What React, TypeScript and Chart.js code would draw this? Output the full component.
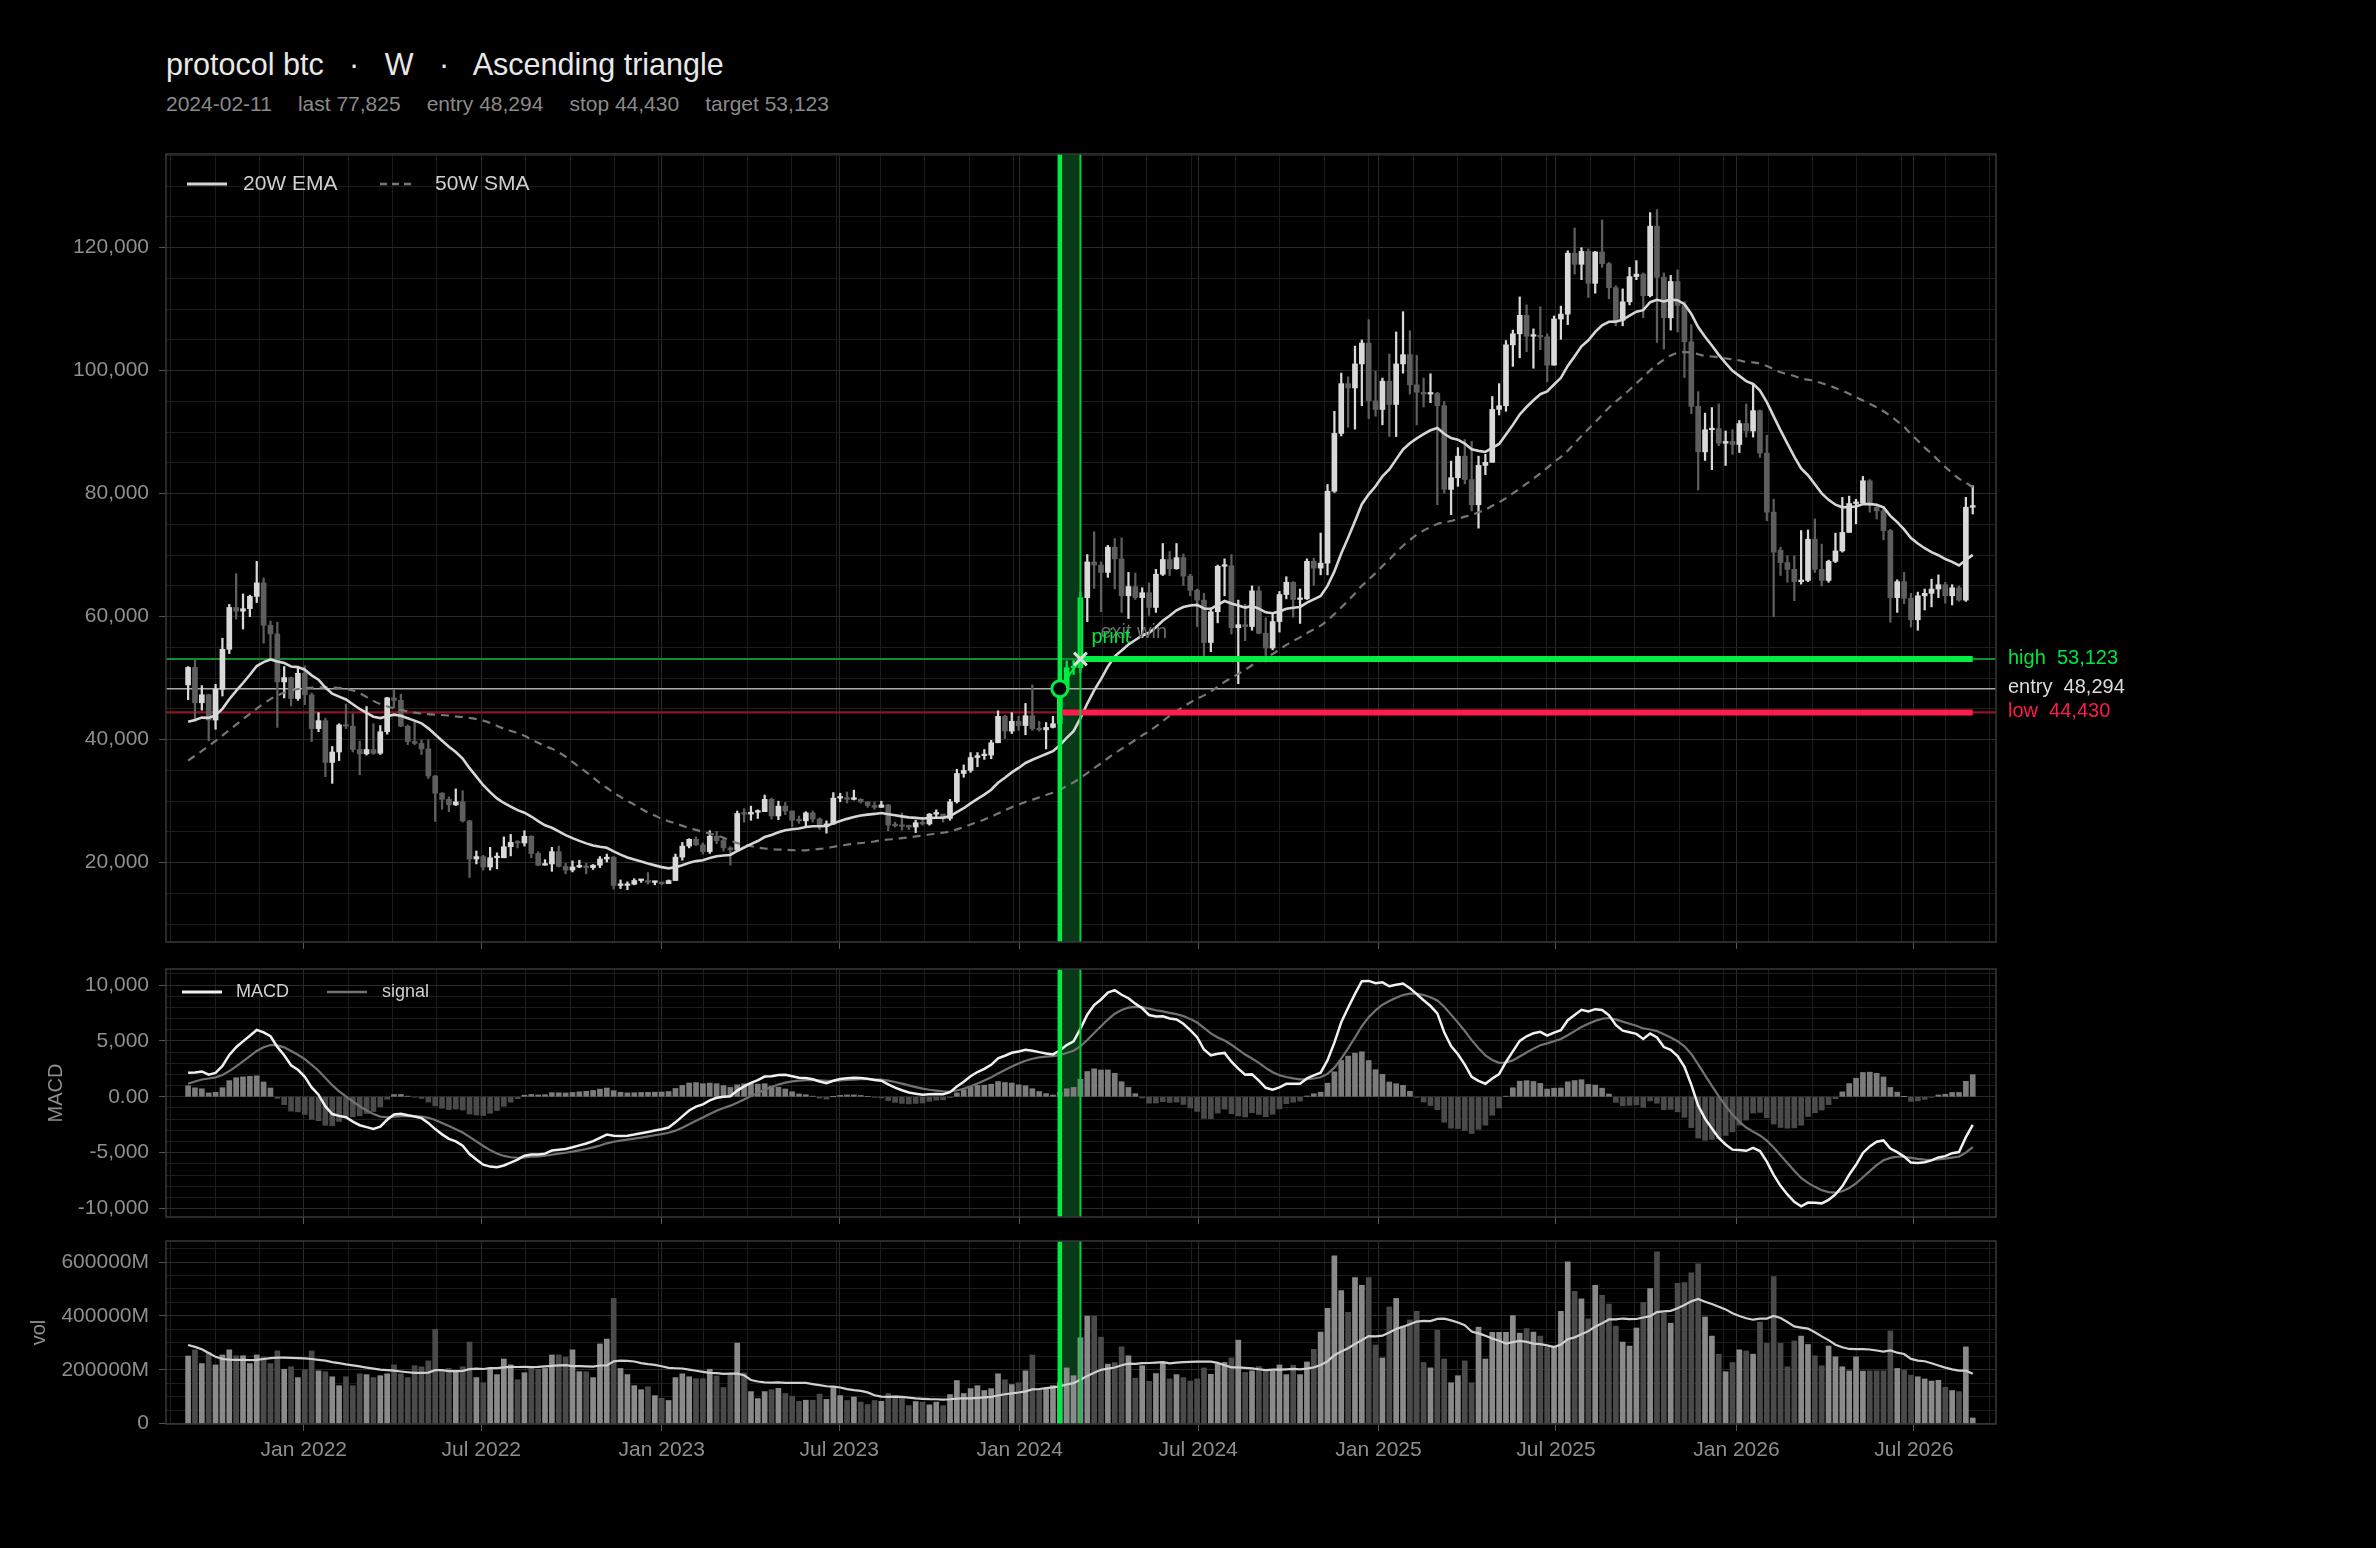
import React, { useEffect, useRef } from 'react';
import { Chart, registerables } from 'chart.js';

Chart.register(...registerables);

// ---------------- data ----------------
const SYMBOL = 'protocol btc';
const TIMEFRAME = 'W';
const PATTERN = 'Ascending triangle';
const SIGNAL_DATE = '2024-02-11';
const START_DATE = '2021-09-05'; // week ending date of the first candle

// weekly OHLC, in thousands of USD
const OPEN = [
  48.9, 51.75, 46.0, 47.3, 43.2, 48.2, 54.7, 61.5, 60.9, 61.3,
  63.3, 65.5, 58.6, 57.2, 49.4, 50.1, 46.7, 50.8, 47.3, 41.8,
  43.1, 36.3, 38.0, 42.4, 42.2, 38.4, 37.7, 38.4, 37.8, 41.3,
  46.8, 46.4, 42.2, 39.7, 39.4, 38.5, 34.1, 31.3, 30.3, 29.4,
  29.9, 26.8, 20.6, 21.0, 19.3, 20.8, 20.8, 22.6, 23.3, 23.2,
  24.3, 21.5, 19.6, 19.8, 21.8, 19.4, 18.8, 19.3, 19.4, 19.2,
  19.6, 20.6, 20.9, 16.3, 16.3, 16.5, 17.1, 17.1, 16.8, 16.8,
  16.6, 17.1, 20.9, 22.7, 23.8, 22.9, 21.8, 24.3, 23.6, 22.4,
  22.1, 28.0, 27.9, 28.2, 28.3, 30.3, 27.6, 29.2, 28.4, 26.9,
  26.8, 28.1, 27.1, 25.9, 26.3, 30.5, 30.6, 30.3, 30.3, 29.9,
  29.3, 29.0, 29.4, 26.1, 26.0, 25.9, 25.8, 26.5, 26.3, 27.9,
  27.9, 27.2, 29.9, 34.5, 35.0, 37.1, 37.4, 37.5, 39.5, 43.8,
  41.4, 43.0, 42.3, 43.9, 41.8, 41.6, 42.0, 42.6, 48.3, 51.7,
  51.7, 63.1, 68.9, 68.4, 67.2, 71.3, 69.4, 63.4, 64.9, 63.1,
  63.9, 61.5, 66.9, 69.3, 67.8, 69.6, 66.6, 64.3, 62.7, 55.8,
  60.8, 68.2, 68.3, 58.2, 58.7, 58.4, 64.2, 57.3, 54.9, 59.2,
  63.6, 65.6, 62.8, 62.9, 69.0, 67.9, 68.7, 80.4, 89.8, 97.9,
  97.2, 101.1, 104.5, 95.1, 93.7, 98.3, 94.5, 101.1, 102.6, 97.7,
  96.5, 96.2, 96.3, 94.3, 80.7, 82.6, 86.1, 82.3, 78.2, 84.6,
  85.1, 93.7, 94.3, 104.2, 106.0, 109.0, 105.6, 105.7, 105.5, 100.9,
  108.4, 109.2, 119.1, 117.3, 119.4, 114.2, 119.3, 117.4, 113.5, 108.2,
  111.2, 115.3, 115.7, 112.2, 123.5, 115.2, 108.6, 114.5, 110.6, 104.7,
  94.2, 86.8, 90.4, 90.6, 88.2, 88.5, 88.0, 91.4, 90.2, 93.5,
  86.6, 77.0, 70.8, 68.8, 67.7, 65.7, 65.9, 72.6, 67.7, 65.9,
  69.0, 70.7, 73.7, 78.4, 78.5, 82.1, 77.8, 77.2, 74.0, 63.1,
  65.7, 63.0, 59.5, 63.4, 63.8, 64.5, 65.2, 63.4, 64.7, 62.7, 77.8,
];
const HIGH = [
  51.9, 52.9, 48.8, 47.4, 49.0, 56.5, 62.0, 67.0, 63.7, 63.5,
  69.0, 66.3, 59.3, 59.1, 51.9, 50.2, 51.9, 52.0, 47.6, 44.4,
  43.5, 38.9, 42.6, 45.8, 44.2, 39.8, 45.4, 42.6, 42.3, 46.9,
  48.2, 47.4, 42.4, 42.9, 40.0, 40.0, 34.2, 31.4, 30.7, 32.0,
  31.7, 26.9, 21.9, 21.2, 22.5, 21.6, 24.2, 24.6, 23.6, 25.2,
  24.4, 21.8, 20.5, 22.5, 22.7, 19.9, 20.3, 20.4, 19.9, 19.7,
  21.0, 21.4, 21.0, 17.2, 16.9, 17.4, 17.3, 18.4, 17.0, 16.8,
  17.2, 21.4, 23.3, 23.9, 24.2, 23.2, 25.2, 25.1, 23.9, 22.6,
  28.4, 28.8, 29.2, 28.6, 31.0, 30.5, 30.0, 29.8, 28.4, 27.6,
  28.3, 28.4, 27.3, 26.8, 31.4, 31.3, 31.5, 31.8, 30.4, 29.9,
  29.9, 30.0, 29.5, 26.6, 28.1, 26.1, 26.9, 27.4, 28.0, 28.6,
  27.9, 30.3, 35.2, 35.9, 37.9, 37.9, 38.4, 39.9, 44.7, 44.0,
  44.4, 43.8, 45.9, 48.9, 43.0, 42.8, 43.8, 48.9, 52.8, 52.9,
  64.0, 70.1, 73.8, 68.9, 71.6, 72.7, 72.8, 67.2, 67.1, 64.7,
  65.5, 67.7, 71.9, 70.6, 71.9, 70.2, 66.9, 64.5, 63.8, 61.4,
  68.4, 69.4, 70.1, 62.7, 62.0, 65.0, 64.9, 59.8, 60.6, 64.1,
  66.5, 65.7, 64.5, 69.4, 69.5, 73.6, 81.5, 93.4, 99.6, 99.0,
  104.0, 105.0, 108.3, 99.9, 98.8, 102.7, 106.3, 109.6, 106.5, 102.5,
  98.8, 99.5, 96.5, 95.0, 85.3, 87.5, 88.8, 88.5, 86.1, 86.4,
  95.8, 97.9, 104.9, 106.6, 112.0, 110.7, 106.8, 110.4, 106.0, 108.9,
  110.5, 119.5, 123.2, 120.0, 119.8, 119.4, 124.5, 117.6, 113.8, 113.3,
  116.8, 117.9, 115.9, 125.7, 126.2, 115.9, 115.5, 116.4, 111.2, 107.5,
  96.6, 93.1, 94.0, 94.6, 90.2, 90.4, 91.9, 94.6, 97.8, 93.6,
  89.5, 79.1, 71.3, 69.9, 69.9, 74.0, 74.1, 75.9, 71.8, 69.2,
  73.6, 79.4, 79.6, 79.1, 82.8, 82.3, 78.3, 77.9, 74.2, 66.0,
  67.2, 63.8, 64.0, 64.5, 66.1, 66.8, 65.6, 65.2, 65.0, 79.4, 81.3,
];
const LOW = [
  46.5, 43.0, 44.8, 39.8, 41.7, 47.1, 54.0, 59.6, 58.0, 60.0,
  62.3, 55.7, 53.3, 42.0, 46.8, 45.5, 46.4, 45.7, 39.7, 41.3,
  34.0, 32.9, 36.6, 41.8, 38.0, 34.3, 37.5, 37.6, 37.6, 40.9,
  45.2, 42.1, 39.2, 39.2, 37.6, 33.7, 26.7, 28.7, 28.3, 29.3,
  26.6, 17.6, 19.8, 18.8, 18.8, 19.0, 20.8, 21.1, 22.4, 22.7,
  20.8, 19.5, 19.6, 18.6, 19.3, 18.2, 18.5, 19.2, 18.2, 18.9,
  19.2, 20.1, 15.7, 15.8, 15.6, 16.4, 16.8, 16.5, 16.4, 16.4,
  16.6, 17.1, 20.4, 22.4, 22.8, 21.4, 21.5, 23.1, 21.9, 19.6,
  21.9, 26.6, 26.9, 27.2, 28.3, 27.1, 27.0, 27.8, 25.8, 26.4,
  25.9, 26.6, 25.4, 24.8, 26.2, 29.9, 29.7, 30.2, 29.7, 29.0,
  28.7, 29.0, 25.2, 25.8, 25.3, 25.4, 24.9, 26.1, 26.1, 27.3,
  26.6, 26.9, 29.7, 33.9, 34.7, 35.6, 36.8, 36.9, 39.5, 40.2,
  41.0, 41.5, 40.8, 41.5, 41.4, 38.5, 41.9, 42.3, 47.7, 50.6,
  50.9, 59.2, 64.6, 60.8, 66.4, 64.5, 60.7, 59.7, 62.8, 56.6,
  60.2, 60.7, 66.7, 66.7, 67.7, 65.1, 63.4, 58.4, 53.5, 54.3,
  59.0, 63.4, 57.2, 49.1, 56.1, 57.8, 57.2, 52.6, 54.6, 57.5,
  62.9, 59.9, 58.9, 62.8, 65.1, 66.8, 66.8, 80.2, 89.4, 90.8,
  90.5, 94.3, 92.2, 92.6, 91.2, 89.3, 89.3, 99.6, 96.2, 91.2,
  94.1, 94.8, 78.2, 80.1, 76.6, 81.2, 81.6, 77.2, 74.4, 83.1,
  85.1, 92.8, 93.4, 100.7, 102.1, 103.1, 100.4, 103.4, 98.2, 100.9,
  105.1, 107.5, 115.7, 114.8, 111.9, 112.6, 116.8, 111.7, 107.3, 107.3,
  110.7, 114.8, 108.6, 112.0, 104.6, 103.5, 106.6, 106.3, 98.9, 93.0,
  80.6, 85.4, 83.9, 87.8, 84.6, 86.4, 86.7, 89.2, 89.2, 85.9,
  75.6, 60.0, 66.7, 65.6, 62.6, 65.3, 65.7, 67.2, 65.0, 65.6,
  68.8, 70.5, 73.7, 75.1, 78.3, 77.0, 75.9, 72.5, 59.1, 60.7,
  62.1, 58.3, 57.8, 61.1, 61.6, 63.1, 62.2, 61.9, 62.5, 62.5, 76.7,
];
const CLOSE = [
  51.75, 46.0, 47.3, 43.2, 48.2, 54.7, 61.5, 60.9, 61.3, 63.3,
  65.5, 58.6, 57.2, 49.4, 50.1, 46.7, 50.8, 47.3, 41.8, 43.1,
  36.3, 38.0, 42.4, 42.2, 38.4, 37.7, 38.4, 37.8, 41.3, 46.8,
  46.4, 42.2, 39.7, 39.4, 38.5, 34.1, 31.3, 30.3, 29.4, 29.9,
  26.8, 20.6, 21.0, 19.3, 20.8, 20.8, 22.6, 23.3, 23.2, 24.3,
  21.5, 19.6, 19.8, 21.8, 19.4, 18.8, 19.3, 19.4, 19.2, 19.6,
  20.6, 20.9, 16.3, 16.3, 16.5, 17.1, 17.1, 16.8, 16.8, 16.6,
  17.1, 20.9, 22.7, 23.8, 22.9, 21.8, 24.3, 23.6, 22.4, 22.1,
  28.0, 27.9, 28.2, 28.3, 30.3, 27.6, 29.2, 28.4, 26.9, 26.8,
  28.1, 27.1, 25.9, 26.3, 30.5, 30.6, 30.3, 30.3, 29.9, 29.3,
  29.0, 29.4, 26.1, 26.0, 25.9, 25.8, 26.5, 26.3, 27.9, 27.9,
  27.2, 29.9, 34.5, 35.0, 37.1, 37.4, 37.5, 39.5, 43.8, 41.4,
  43.0, 42.3, 43.9, 41.8, 41.6, 42.0, 42.6, 48.3, 51.7, 51.7,
  63.1, 68.9, 68.4, 67.2, 71.3, 69.4, 63.4, 64.9, 63.1, 63.9,
  61.5, 66.9, 69.3, 67.8, 69.6, 66.6, 64.3, 62.7, 55.8, 60.8,
  68.2, 68.3, 58.2, 58.7, 58.4, 64.2, 57.3, 54.9, 59.2, 63.6,
  65.6, 62.8, 62.9, 69.0, 67.9, 68.7, 80.4, 89.8, 97.9, 97.2,
  101.1, 104.5, 95.1, 93.7, 98.3, 94.5, 101.1, 102.6, 97.7, 96.5,
  96.2, 96.3, 94.3, 80.7, 82.6, 86.1, 82.3, 78.2, 84.6, 85.1,
  93.7, 94.3, 104.2, 106.0, 109.0, 105.6, 105.7, 105.5, 100.9, 108.4,
  109.2, 119.1, 117.3, 119.4, 114.2, 119.3, 117.4, 113.5, 108.2, 111.2,
  115.3, 115.7, 112.2, 123.5, 115.2, 108.6, 114.5, 110.6, 104.7, 94.2,
  86.8, 90.4, 90.6, 88.2, 88.5, 88.0, 91.4, 90.2, 93.5, 86.6,
  77.0, 70.5, 68.8, 67.7, 65.7, 65.9, 72.6, 67.7, 65.9, 69.0,
  70.7, 73.7, 78.4, 78.5, 82.1, 78.3, 77.2, 74.0, 63.1, 65.7,
  63.0, 59.5, 63.4, 63.8, 64.5, 65.2, 63.4, 64.7, 62.7, 77.8, 77.825,
];
// weekly volume, in billions (thousand M)
const VOLUME = [
  251, 274, 223, 264, 218, 255, 274, 252, 252, 223,
  255, 247, 223, 270, 202, 211, 171, 200, 270, 196,
  193, 174, 141, 174, 141, 185, 182, 171, 178, 185,
  218, 185, 171, 215, 211, 233, 350, 196, 205, 196,
  211, 303, 171, 152, 202, 182, 240, 218, 163, 189,
  205, 202, 205, 255, 255, 247, 274, 193, 193, 171,
  296, 314, 465, 205, 182, 141, 126, 137, 104, 94,
  86, 171, 185, 174, 167, 167, 202, 177, 134, 185,
  299, 188, 119, 93, 119, 126, 131, 112, 102, 83,
  87, 87, 110, 90, 134, 104, 86, 99, 80, 71,
  86, 83, 112, 104, 99, 67, 82, 80, 70, 80,
  67, 108, 160, 112, 130, 141, 123, 130, 185, 163,
  145, 152, 196, 255, 126, 131, 141, 153, 207, 178,
  319, 399, 399, 321, 221, 227, 285, 252, 169, 215,
  157, 186, 225, 166, 182, 171, 158, 166, 207, 183,
  221, 227, 244, 310, 190, 196, 212, 196, 196, 218,
  182, 217, 182, 229, 276, 340, 428, 623, 494, 413,
  542, 513, 542, 292, 244, 433, 465, 362, 385, 417,
  227, 207, 347, 240, 152, 178, 233, 152, 358, 240,
  339, 339, 339, 401, 336, 353, 340, 325, 285, 288,
  417, 601, 491, 463, 389, 513, 476, 444, 362, 303,
  288, 355, 450, 501, 638, 410, 373, 521, 524, 560,
  593, 396, 325, 258, 193, 227, 274, 270, 258, 377,
  298, 546, 298, 211, 307, 325, 294, 252, 215, 288,
  248, 211, 196, 248, 195, 196, 196, 196, 344, 205,
  199, 180, 174, 166, 158, 161, 135, 123, 119, 285, 21,
];
// indicator values read at the first candle (history before the window)
const EMA20_START = 42.9;
const EMA12_START = 43.8;
const EMA26_START = 41.64;
const SIGNAL_START = 1.17;
const SMA50_EARLY = [
  [0, 36.6], [4, 39.8], [9, 44.2], [12, 46.6], [15, 48.0], [20, 48.5],
  [24, 48.0], [28, 45.8], [33, 44.4], [38, 43.9], [43, 43.1], [46, 41.8],
];
// volume MA for the first 19 weeks
const VOL_MA_EARLY = [292, 285, 276, 262, 248, 240, 238, 237, 237, 236, 237, 240, 243, 245, 245, 244, 243, 242, 240];

const TICK_DATES = ['2022-01-01', '2022-07-01', '2023-01-01', '2023-07-01', '2024-01-01', '2024-07-01', '2025-01-01', '2025-07-01', '2026-01-01', '2026-07-01'];
const TICK_LABELS = ['Jan 2022', 'Jul 2022', 'Jan 2023', 'Jul 2023', 'Jan 2024', 'Jul 2024', 'Jan 2025', 'Jul 2025', 'Jan 2026', 'Jul 2026'];
const PRICE_LABEL_TICKS = [20, 40, 60, 80, 100, 120];
const MACD_LABEL_TICKS = [-10, -5, 0, 5, 10];
const VOL_LABEL_TICKS = [0, 200, 400, 600];

const ENTRY_INDEX = 127;
const EXIT_INDEX = 130;
const ENTRY = 48.294;
const STOP = 44.43;
const TARGET = 53.123;
const LAST = 77.825;

const LEGEND_MAIN = ['20W EMA', '50W SMA'];
const LEGEND_MACD = ['MACD', 'signal'];
const TRADE_TEXT = ['print', 'exit win'];

// ---------------- derived ----------------
const N = CLOSE.length;
const IDX = CLOSE.map((_, i) => i);
function emaFrom(src: number[], start: number, period: number): number[] {
  const a = 2 / (period + 1);
  const out = [start];
  for (let i = 1; i < src.length; i++) out.push(out[i - 1] + a * (src[i] - out[i - 1]));
  return out;
}
function smaAt(src: number[], i: number, period: number): number {
  let s = 0;
  for (let k = i - period + 1; k <= i; k++) s += src[k];
  return s / period;
}
const EMA20 = emaFrom(CLOSE, EMA20_START, 20);
const EMA12 = emaFrom(CLOSE, EMA12_START, 12);
const EMA26 = emaFrom(CLOSE, EMA26_START, 26);
const MACD = EMA12.map((v, i) => v - EMA26[i]);
const SIGNAL = emaFrom(MACD, SIGNAL_START, 9);
const HIST = MACD.map((v, i) => v - SIGNAL[i]);
const SMA50_POINTS = [
  ...SMA50_EARLY.map(([x, y]) => ({ x, y })),
  ...IDX.filter((i) => i >= 49).map((i) => ({ x: i, y: smaAt(CLOSE, i, 50) })),
];
const VOL_MA = IDX.map((i) => (i < 19 ? VOL_MA_EARLY[i] : smaAt(VOLUME, i, 20)));

const DAY = 86400000;
const weekIndex = (d: string) => (Date.parse(d + 'T00:00:00Z') - Date.parse(START_DATE + 'T00:00:00Z')) / (7 * DAY);
const TICK_POS = TICK_DATES.map(weekIndex);

// ---------------- layout / style ----------------
const W = 2376;
const H = 1548;
const PLOT_LEFT = 166;
const PLOT_RIGHT = 1996;
const X_MIN = -3.22;
const X_MAX = 263.39;
const P_MIN = 7.105, P_MAX = 135.235;
const M_MIN = -10.753, M_MAX = 11.434;
const V_MIN = -1.3, V_MAX = 678;

const FONT = '"Liberation Sans", Arial, Helvetica, sans-serif';
const TICK_TEXT = '#8e8e8e';
const GRID_MINOR = '#1c1c1c';
const GRID_MAJOR = '#2a2a2a';
const TICK_MARK = '#555555';
const FRAME = '#383838';
const UP = '#d9d9d9';
const DOWN = '#5e5e5e';
const GREEN = '#00ee44';
const GREEN_TXT = '#00e640';
const GREEN_DARK = '#0d8f2e';
const GREEN_EDGE = '#00d040';
const BAND = '#083a18';
const RED = '#ff1c4c';
const RED_DARK = '#8e1529';
const ENTRY_GRAY = '#ababab';
const EMA_COLOR = '#d6d6d6';
const SMA_COLOR = '#767676';
const MACD_COLOR = '#f0f0f0';
const SIGNAL_COLOR = '#727272';
const LEGEND_TEXT = '#cfcfcf';

const minorStep = (TICK_POS[1] - TICK_POS[0]) / 4;
const X_GRID: number[] = (() => {
  const out: number[] = [...TICK_POS];
  for (let k = -10; k < 80; k++) {
    const v = TICK_POS[0] + k * minorStep;
    if (v > X_MIN && v < X_MAX && !TICK_POS.some((p) => Math.abs(p - v) < 1e-6)) out.push(v);
  }
  return out.sort((a, b) => a - b);
})();
const majorIdx = (v: number) => TICK_POS.findIndex((p) => Math.abs(p - v) < 1e-6);

const stepRange = (a: number, b: number, s: number) => {
  const out: number[] = [];
  for (let v = a; v <= b + 1e-9; v += s) out.push(Math.round(v * 1000) / 1000);
  return out;
};
const fmtK = (v: number) => Math.round(v * 1000).toLocaleString('en-US');

function xAxis(showLabels: boolean, axisHeight: number) {
  return {
    type: 'linear',
    min: X_MIN,
    max: X_MAX,
    offset: false,
    afterBuildTicks: (s: any) => {
      s.ticks = X_GRID.map((v) => ({ value: v }));
    },
    afterFit: (s: any) => {
      s.height = axisHeight;
    },
    grid: {
      offset: false,
      drawTicks: true,
      tickLength: 7,
      lineWidth: 1,
      color: (c: any) => (c.tick && majorIdx(c.tick.value) >= 0 ? GRID_MAJOR : GRID_MINOR),
      tickColor: (c: any) => (c.tick && majorIdx(c.tick.value) >= 0 ? TICK_MARK : 'rgba(0,0,0,0)'),
    },
    border: { display: false },
    ticks: {
      display: showLabels,
      autoSkip: false,
      maxRotation: 0,
      minRotation: 0,
      padding: 7,
      color: TICK_TEXT,
      font: { family: FONT, size: 21 },
      callback: (v: number) => {
        const k = majorIdx(v);
        return k >= 0 ? TICK_LABELS[k] : '';
      },
    },
  };
}

function yAxis(min: number, max: number, grid: number[], labels: number[], fmt: (v: number) => string) {
  return {
    type: 'linear',
    min,
    max,
    beginAtZero: false,
    afterBuildTicks: (s: any) => {
      s.ticks = grid.map((v) => ({ value: v }));
    },
    afterFit: (s: any) => {
      s.width = PLOT_LEFT;
    },
    grid: {
      drawTicks: true,
      tickLength: 7,
      lineWidth: 1,
      color: (c: any) => (c.tick && labels.includes(c.tick.value) ? GRID_MAJOR : GRID_MINOR),
      tickColor: (c: any) => (c.tick && labels.includes(c.tick.value) ? TICK_MARK : 'rgba(0,0,0,0)'),
    },
    border: { display: false },
    ticks: {
      autoSkip: false,
      padding: 10,
      color: TICK_TEXT,
      font: { family: FONT, size: 21 },
      callback: (v: number) => (labels.includes(v) ? fmt(v) : ''),
    },
  };
}

const line = (data: any[], color: string, width: number, order: number, extra: any = {}) => ({
  type: 'line',
  data,
  borderColor: color,
  backgroundColor: color,
  borderWidth: width,
  pointRadius: 0,
  order,
  ...extra,
});

function tradeOverlay(ymin: number, ymax: number) {
  return [
    line([{ x: ENTRY_INDEX, y: ymax }, { x: EXIT_INDEX, y: ymax }], 'rgba(0,0,0,0)', 0, 100, { fill: 'start', backgroundColor: BAND }),
    line([{ x: EXIT_INDEX, y: ymin }, { x: EXIT_INDEX, y: ymax }], GREEN_EDGE, 2, 46),
    line([{ x: ENTRY_INDEX, y: ymin }, { x: ENTRY_INDEX, y: ymax }], GREEN, 4.5, 45),
  ];
}

const baseOptions = (padTop: number, padBottom: number, scales: any) => ({
  responsive: false,
  animation: false,
  events: [],
  layout: { padding: { left: 0, right: W - PLOT_RIGHT, top: padTop, bottom: padBottom } },
  plugins: { legend: { display: false }, tooltip: { enabled: false } },
  scales,
});

function drawFrame(ctx: any, a: any) {
  ctx.strokeStyle = FRAME;
  ctx.lineWidth = 1.5;
  ctx.strokeRect(a.left, a.top, a.right - a.left, a.bottom - a.top);
}
function seg(ctx: any, x0: number, y0: number, x1: number, y1: number) {
  ctx.beginPath();
  ctx.moveTo(x0, y0);
  ctx.lineTo(x1, y1);
  ctx.stroke();
}
function axisTitle(ctx: any, text: string, x: number, y: number) {
  ctx.save();
  ctx.translate(x, y);
  ctx.rotate(-Math.PI / 2);
  ctx.font = `20px ${FONT}`;
  ctx.fillStyle = TICK_TEXT;
  ctx.textAlign = 'center';
  ctx.textBaseline = 'middle';
  ctx.fillText(text, 0, 0);
  ctx.restore();
}

const candleColor = (i: number) =>
  i >= ENTRY_INDEX && i <= EXIT_INDEX ? GREEN : CLOSE[i] >= OPEN[i] ? UP : DOWN;

// canvas placement: [top, height, padTop, padBottom]
const MAIN_BOX = [0, 970, 154, 21];
const MACD_BOX = [940, 300, 29, 16];
const VOL_BOX = [1210, 338, 31, 74];

function mainConfig(): any {
  const decor = {
    id: 'mainDecor',
    afterDraw(chart: any) {
      const { ctx, chartArea: a, scales } = chart;
      const xs = scales.x;
      const ys = scales.y;
      ctx.save();
      drawFrame(ctx, a);
      const ly = a.top + 30;
      ctx.lineCap = 'butt';
      ctx.strokeStyle = EMA_COLOR;
      ctx.lineWidth = 3;
      seg(ctx, a.left + 21, ly, a.left + 61, ly);
      ctx.strokeStyle = SMA_COLOR;
      ctx.lineWidth = 2.5;
      ctx.setLineDash([7, 5]);
      seg(ctx, a.left + 214, ly, a.left + 250, ly);
      ctx.setLineDash([]);
      ctx.font = `21px ${FONT}`;
      ctx.fillStyle = LEGEND_TEXT;
      ctx.textAlign = 'left';
      ctx.textBaseline = 'middle';
      ctx.fillText(LEGEND_MAIN[0], a.left + 77, ly);
      ctx.fillText(LEGEND_MAIN[1], a.left + 269, ly);

      const ex = xs.getPixelForValue(EXIT_INDEX);
      const ty = ys.getPixelForValue(TARGET);
      ctx.font = `20px ${FONT}`;
      ctx.textBaseline = 'alphabetic';
      ctx.fillStyle = '#6a6a6a';
      ctx.fillText(TRADE_TEXT[1], ex + 20, ty - 21);
      ctx.fillStyle = GREEN_TXT;
      ctx.fillText(TRADE_TEXT[0], ex + 11, ty - 16);

      ctx.textBaseline = 'middle';
      ctx.font = `20px ${FONT}`;
      const rx = a.right + 12;
      const rows: [string, number, string][] = [
        [`high  ${fmtK(TARGET)}`, TARGET, GREEN_TXT],
        [`entry  ${fmtK(ENTRY)}`, ENTRY, '#dcdcdc'],
        [`low  ${fmtK(STOP)}`, STOP, RED],
      ];
      rows.forEach(([t, v, c]) => {
        ctx.fillStyle = c;
        ctx.fillText(t, rx, ys.getPixelForValue(v) - 1);
      });
      ctx.restore();
    },
  };
  const last = N - 1;
  return {
    type: 'bar',
    data: {
      datasets: [
        ...tradeOverlay(P_MIN, P_MAX),
        line([{ x: X_MIN, y: TARGET }, { x: X_MAX, y: TARGET }], GREEN_DARK, 2.2, 95),
        line([{ x: X_MIN, y: ENTRY }, { x: X_MAX, y: ENTRY }], ENTRY_GRAY, 1.6, 95),
        line([{ x: X_MIN, y: STOP }, { x: X_MAX, y: STOP }], RED_DARK, 2.2, 95),
        {
          type: 'bar',
          data: IDX.map((i) => ({ x: i, y: [LOW[i], HIGH[i]] })),
          backgroundColor: IDX.map(candleColor),
          barThickness: 1.6,
          grouped: false,
          order: 80,
        },
        {
          type: 'bar',
          data: IDX.map((i) => ({ x: i, y: [Math.min(OPEN[i], CLOSE[i]), Math.max(OPEN[i], CLOSE[i])] })),
          backgroundColor: IDX.map(candleColor),
          barThickness: 5,
          minBarLength: 1.6,
          grouped: false,
          order: 79,
        },
        line(SMA50_POINTS, SMA_COLOR, 2.2, 70, { borderDash: [8, 6], cubicInterpolationMode: 'monotone' }),
        line(IDX.map((i) => ({ x: i, y: EMA20[i] })), EMA_COLOR, 2.6, 60),
        line([{ x: EXIT_INDEX, y: TARGET }, { x: last, y: TARGET }], GREEN, 6, 50),
        line([{ x: ENTRY_INDEX, y: STOP }, { x: last, y: STOP }], RED, 6, 50),
        line([{ x: ENTRY_INDEX, y: ENTRY }, { x: EXIT_INDEX, y: TARGET }], GREEN, 2, 30),
        line([{ x: ENTRY_INDEX, y: ENTRY }], GREEN, 3, 20, {
          showLine: false, pointRadius: 8, pointBorderWidth: 3, pointBorderColor: GREEN, pointBackgroundColor: '#000000',
        }),
        line([{ x: EXIT_INDEX, y: TARGET }], '#dcdcdc', 3, 10, {
          showLine: false, pointStyle: 'crossRot', pointRadius: 9, pointBorderWidth: 3, pointBorderColor: '#dcdcdc',
        }),
      ],
    },
    options: baseOptions(MAIN_BOX[2], MAIN_BOX[3], {
      x: xAxis(false, 7),
      y: yAxis(P_MIN, P_MAX, stepRange(10, 135, 5), PRICE_LABEL_TICKS, (v) => fmtK(v)),
    }),
    plugins: [decor],
  };
}

function macdConfig(): any {
  const decor = {
    id: 'macdDecor',
    afterDraw(chart: any) {
      const { ctx, chartArea: a } = chart;
      ctx.save();
      drawFrame(ctx, a);
      const ly = a.top + 23;
      ctx.strokeStyle = MACD_COLOR;
      ctx.lineWidth = 3;
      seg(ctx, a.left + 16, ly, a.left + 56, ly);
      ctx.strokeStyle = SIGNAL_COLOR;
      ctx.lineWidth = 2.5;
      seg(ctx, a.left + 161, ly, a.left + 201, ly);
      ctx.font = `18px ${FONT}`;
      ctx.fillStyle = LEGEND_TEXT;
      ctx.textAlign = 'left';
      ctx.textBaseline = 'middle';
      ctx.fillText(LEGEND_MACD[0], a.left + 70, ly);
      ctx.fillText(LEGEND_MACD[1], a.left + 216, ly);
      ctx.restore();
      axisTitle(ctx, 'MACD', 56, (a.top + a.bottom) / 2);
    },
  };
  return {
    type: 'bar',
    data: {
      datasets: [
        ...tradeOverlay(M_MIN, M_MAX),
        {
          type: 'bar',
          data: IDX.map((i) => ({ x: i, y: HIST[i] })),
          backgroundColor: IDX.map((i) => (HIST[i] >= 0 ? '#7c7c7c' : '#4a4a4a')),
          barThickness: 5,
          grouped: false,
          order: 80,
        },
        line(IDX.map((i) => ({ x: i, y: SIGNAL[i] })), SIGNAL_COLOR, 2.2, 60),
        line(IDX.map((i) => ({ x: i, y: MACD[i] })), MACD_COLOR, 2.5, 55),
      ],
    },
    options: baseOptions(MACD_BOX[2], MACD_BOX[3], {
      x: xAxis(false, 7),
      y: yAxis(M_MIN, M_MAX, stepRange(-10, 11, 1), MACD_LABEL_TICKS, (v) => (v === 0 ? '0.00' : fmtK(v))),
    }),
    plugins: [decor],
  };
}

function volConfig(): any {
  const decor = {
    id: 'volDecor',
    afterDraw(chart: any) {
      const { ctx, chartArea: a } = chart;
      ctx.save();
      drawFrame(ctx, a);
      ctx.restore();
      axisTitle(ctx, 'vol', 39, (a.top + a.bottom) / 2);
    },
  };
  return {
    type: 'bar',
    data: {
      datasets: [
        ...tradeOverlay(V_MIN, V_MAX),
        {
          type: 'bar',
          data: IDX.map((i) => ({ x: i, y: VOLUME[i] })),
          backgroundColor: IDX.map((i) => (CLOSE[i] >= OPEN[i] ? '#8a8a8a' : '#4a4a4a')),
          barThickness: 5,
          grouped: false,
          order: 80,
        },
        line(IDX.map((i) => ({ x: i, y: VOL_MA[i] })), '#cfcfcf', 2.2, 60),
      ],
    },
    options: baseOptions(VOL_BOX[2], VOL_BOX[3], {
      x: xAxis(true, 50),
      y: yAxis(V_MIN, V_MAX, stepRange(0, 650, 50), VOL_LABEL_TICKS, (v) => (v === 0 ? '0' : `${Math.round(v * 1000)}M`)),
    }),
    plugins: [decor],
  };
}

const TITLE = `${SYMBOL}   ·   ${TIMEFRAME}   ·   ${PATTERN}`;
const SUBTITLE_PARTS = [
  SIGNAL_DATE,
  `last ${fmtK(LAST)}`,
  `entry ${fmtK(ENTRY)}`,
  `stop ${fmtK(STOP)}`,
  `target ${fmtK(TARGET)}`,
];

export default function App() {
  const mainRef = useRef<HTMLCanvasElement>(null);
  const macdRef = useRef<HTMLCanvasElement>(null);
  const volRef = useRef<HTMLCanvasElement>(null);

  useEffect(() => {
    Chart.defaults.font.family = FONT;
    const charts = [
      new Chart(mainRef.current as HTMLCanvasElement, mainConfig()),
      new Chart(macdRef.current as HTMLCanvasElement, macdConfig()),
      new Chart(volRef.current as HTMLCanvasElement, volConfig()),
    ];
    return () => charts.forEach((c) => c.destroy());
  }, []);

  const canvasStyle = (box: number[]): React.CSSProperties => ({
    position: 'absolute', left: 0, top: box[0], width: W, height: box[1], display: 'block',
  });

  return (
    <div style={{ position: 'fixed', left: 0, top: 0, width: W, height: H, background: '#000', overflow: 'hidden', fontFamily: FONT }}>
      <div style={{ position: 'absolute', left: 166, top: 49, fontSize: 30.5, lineHeight: '31px', color: '#e8e8e8', whiteSpace: 'pre' }}>{TITLE}</div>
      <div style={{ position: 'absolute', left: 166, top: 93, fontSize: 21, lineHeight: '21px', color: '#8a8a8a', whiteSpace: 'pre', display: 'flex', gap: 26 }}>
        {SUBTITLE_PARTS.map((t) => (
          <span key={t}>{t}</span>
        ))}
      </div>
      <canvas ref={mainRef} width={W} height={MAIN_BOX[1]} style={canvasStyle(MAIN_BOX)} />
      <canvas ref={macdRef} width={W} height={MACD_BOX[1]} style={canvasStyle(MACD_BOX)} />
      <canvas ref={volRef} width={W} height={VOL_BOX[1]} style={canvasStyle(VOL_BOX)} />
    </div>
  );
}
